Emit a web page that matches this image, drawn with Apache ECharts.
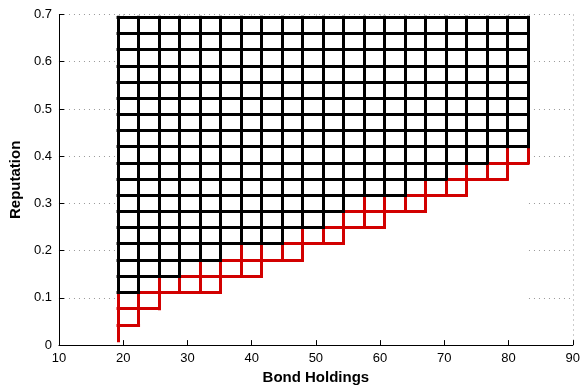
<!DOCTYPE html>
<html>
<head>
<meta charset="utf-8">
<script src="https://cdn.jsdelivr.net/npm/echarts@6/dist/echarts.min.js"></script>
<style>
  html, body { margin: 0; padding: 0; background: #fff; }
  #chart { width: 583px; height: 390px; }
</style>
</head>
<body>
<div id="chart"></div>
<script>
// Bond-holding grid nodes (x) and reputation grid nodes (y)
const bondGrid = [19.2, 22.39, 25.58, 28.77, 31.96, 35.15, 38.34, 41.53, 44.72, 47.91,
                  51.1, 54.29, 57.48, 60.67, 63.86, 67.05, 70.24, 73.43, 76.62, 79.81, 83.0];
const repGrid = [0.009, 0.043, 0.077, 0.112, 0.146, 0.180, 0.215, 0.249, 0.283, 0.317,
                 0.352, 0.386, 0.420, 0.454, 0.489, 0.523, 0.557, 0.591, 0.626, 0.660, 0.694];

// Lowest reputation node (index into repGrid) of each region, per bond column
const blackFloor = [3, 3, 4, 4, 5, 5, 6, 6, 6, 7, 7, 8, 9, 9, 9, 10, 10, 11, 11, 12, 12];
const redFloor   = [0, 1, 2, 3, 3, 3, 4, 4, 5, 5, 6, 6, 7, 7, 8, 8, 9, 9, 10, 10, 11];

// Axis ranges
const bondTicks = [10, 20, 30, 40, 50, 60, 70, 80, 90];
const repTicks = [0, 0.1, 0.2, 0.3, 0.4, 0.5, 0.6, 0.7];

// Collect straight runs of mesh edges whose nodes lie in the region above `floor`,
// skipping edges already covered by region `skip`.
function meshSegments(floor, skip) {
  const segs = [];
  const n = bondGrid.length, m = repGrid.length;
  const inside = (f, i, j) => j >= f[i];
  for (let j = 0; j < m; j++) {
    let start = -1;
    for (let i = 0; i < n - 1; i++) {
      const on = inside(floor, i, j) && inside(floor, i + 1, j) &&
                 !(skip && inside(skip, i, j) && inside(skip, i + 1, j));
      if (on) { if (start < 0) start = i; }
      else if (start >= 0) {
        segs.push([[bondGrid[start], repGrid[j]], [bondGrid[i], repGrid[j]]]);
        start = -1;
      }
    }
    if (start >= 0) segs.push([[bondGrid[start], repGrid[j]], [bondGrid[n - 1], repGrid[j]]]);
  }
  for (let i = 0; i < n; i++) {
    let start = -1;
    for (let j = 0; j < m - 1; j++) {
      const on = inside(floor, i, j) && !(skip && inside(skip, i, j));
      if (on) { if (start < 0) start = j; }
      else if (start >= 0) {
        segs.push([[bondGrid[i], repGrid[start]], [bondGrid[i], repGrid[j]]]);
        start = -1;
      }
    }
    if (start >= 0) segs.push([[bondGrid[i], repGrid[start]], [bondGrid[i], repGrid[m - 1]]]);
  }
  return segs.map(c => ({ coords: c }));
}

const blackSegs = meshSegments(blackFloor, null);
const redSegs = meshSegments(redFloor, blackFloor);

const font = 'Liberation Sans, Arial, Helvetica, sans-serif';
const xMin = bondTicks[0], xMax = bondTicks[bondTicks.length - 1];
const yMin = repTicks[0], yMax = repTicks[repTicks.length - 1];

// Axis 0: dotted grid only (under the mesh); axis 1: line, ticks, labels, name (on top)
const xBase = { type: 'value', min: xMin, max: xMax, interval: 10, position: 'bottom' };
const yBase = { type: 'value', min: yMin, max: yMax, interval: 0.1, position: 'left' };
const hidden = { axisLine: { show: false }, axisTick: { show: false }, axisLabel: { show: false } };
const dotted = { show: true, lineStyle: { color: '#999', width: 1, type: [1, 4] } };

const chart = echarts.init(document.getElementById('chart'), null, { renderer: 'canvas' });
chart.setOption({
  animation: false,
  backgroundColor: '#fff',
  grid: { left: 57, right: 7, top: 14.5, bottom: 41, containLabel: false },
  xAxis: [
    Object.assign({}, xBase, hidden, { splitLine: dotted, z: 0 }),
    Object.assign({}, xBase, {
      z: 10,
      name: 'Bond Holdings', nameLocation: 'middle', nameGap: 24,
      nameTextStyle: { fontFamily: font, fontWeight: 'bold', fontSize: 15, color: '#000' },
      axisLine: { onZero: false, lineStyle: { color: '#000', width: 1 } },
      axisTick: { inside: true, length: 5, lineStyle: { color: '#000' } },
      axisLabel: { color: '#000', fontSize: 13, fontFamily: font, margin: 7 },
      splitLine: { show: false }
    })
  ],
  yAxis: [
    Object.assign({}, yBase, hidden, { splitLine: dotted, z: 0 }),
    Object.assign({}, yBase, {
      z: 10,
      name: 'Reputation', nameLocation: 'middle', nameGap: 31, nameRotate: 90,
      nameTextStyle: { fontFamily: font, fontWeight: 'bold', fontSize: 15, color: '#000' },
      axisLine: { onZero: false, lineStyle: { color: '#000', width: 1 } },
      axisTick: { inside: true, length: 5, lineStyle: { color: '#000' } },
      axisLabel: { color: '#000', fontSize: 13, fontFamily: font, margin: 7,
                   formatter: v => String(Math.round(v * 10) / 10) },
      splitLine: { show: false }
    })
  ],
  series: [
    {
      // opaque backing of the mesh: hides the dotted grid under the surface
      type: 'custom', silent: true, z: 1,
      xAxisIndex: 0, yAxisIndex: 0,
      data: [[bondGrid[0], bondGrid[bondGrid.length - 1], yMin, repGrid[repGrid.length - 1]]],
      renderItem: (params, api) => {
        const p0 = api.coord([api.value(0), api.value(2)]);
        const p1 = api.coord([api.value(1), api.value(3)]);
        return {
          type: 'rect',
          shape: { x: p0[0], y: p1[1], width: p1[0] - p0[0], height: p0[1] - p1[1] },
          style: { fill: '#fff' }
        };
      }
    },
    {
      type: 'lines', coordinateSystem: 'cartesian2d', polyline: false, silent: true, z: 3,
      xAxisIndex: 0, yAxisIndex: 0,
      lineStyle: { color: '#d20000', width: 3, opacity: 1, cap: 'square', curveness: 0 },
      data: redSegs
    },
    {
      type: 'lines', coordinateSystem: 'cartesian2d', polyline: false, silent: true, z: 4,
      xAxisIndex: 0, yAxisIndex: 0,
      lineStyle: { color: '#000', width: 3, opacity: 1, cap: 'square', curveness: 0 },
      data: blackSegs
    }
  ]
});
</script>
</body>
</html>
